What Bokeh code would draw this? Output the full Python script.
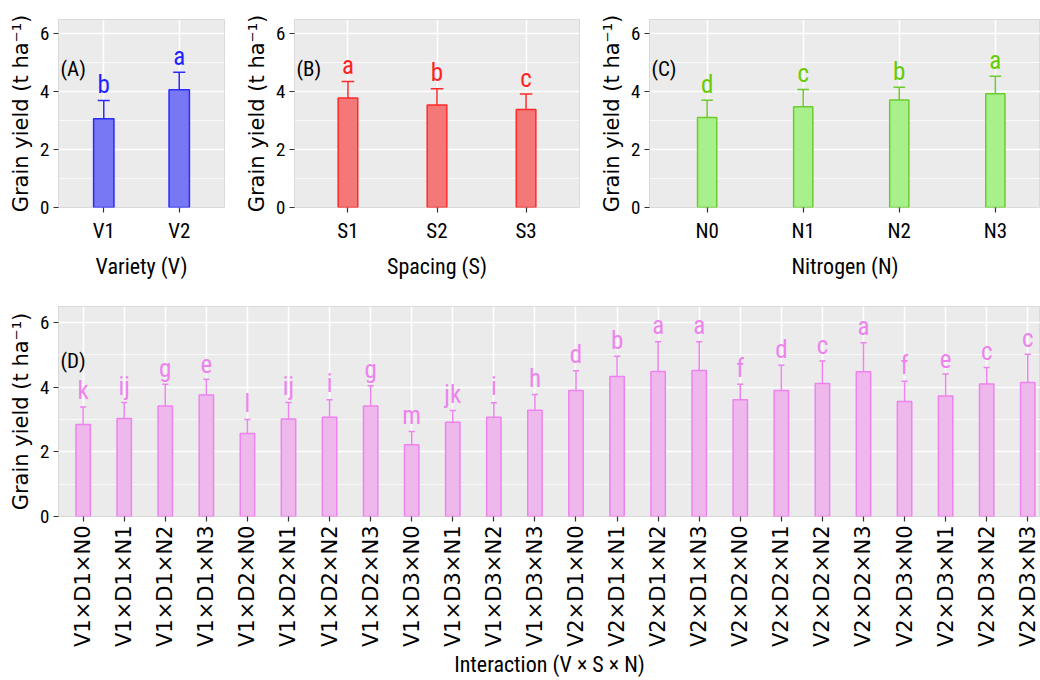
import math
from bokeh.plotting import figure
from bokeh.layouts import row, column
from bokeh.models import Range1d, FixedTicker, SingleIntervalTicker, ColumnDataSource, Label
from bokeh.core.properties import value
from bokeh.embed import file_html
from bokeh.resources import INLINE

# ---------------- data ----------------
variety = ["V1", "V2"]
variety_mean = [3.07, 4.07]
variety_sd = [0.63, 0.61]
variety_letters = ["b", "a"]

spacing = ["S1", "S2", "S3"]
spacing_mean = [3.79, 3.54, 3.39]
spacing_sd = [0.57, 0.57, 0.53]
spacing_letters = ["a", "b", "c"]

nitrogen = ["N0", "N1", "N2", "N3"]
nitrogen_mean = [3.11, 3.48, 3.72, 3.93]
nitrogen_sd = [0.60, 0.60, 0.44, 0.61]
nitrogen_letters = ["d", "c", "b", "a"]

interaction = ["V1×D1×N0", "V1×D1×N1", "V1×D1×N2", "V1×D1×N3",
               "V1×D2×N0", "V1×D2×N1", "V1×D2×N2", "V1×D2×N3",
               "V1×D3×N0", "V1×D3×N1", "V1×D3×N2", "V1×D3×N3",
               "V2×D1×N0", "V2×D1×N1", "V2×D1×N2", "V2×D1×N3",
               "V2×D2×N0", "V2×D2×N1", "V2×D2×N2", "V2×D2×N3",
               "V2×D3×N0", "V2×D3×N1", "V2×D3×N2", "V2×D3×N3"]
interaction_mean = [2.85, 3.03, 3.42, 3.76, 2.57, 3.02, 3.07, 3.42,
                    2.22, 2.92, 3.07, 3.29, 3.90, 4.33, 4.49, 4.52,
                    3.61, 3.90, 4.12, 4.48, 3.56, 3.73, 4.10, 4.15]
interaction_sd = [0.54, 0.50, 0.67, 0.49, 0.43, 0.51, 0.54, 0.63,
                  0.41, 0.36, 0.45, 0.49, 0.61, 0.63, 0.92, 0.89,
                  0.48, 0.78, 0.69, 0.90, 0.63, 0.68, 0.51, 0.87]
interaction_letters = ["k", "ij", "g", "e", "l", "ij", "i", "g",
                       "m", "jk", "i", "h", "d", "b", "a", "a",
                       "f", "d", "c", "a", "f", "e", "c", "c"]

Y_TITLE = "Grain yield (t ha\u207B\u00B9)"
NARROW_STR = "Roboto Condensed, Liberation Sans Narrow, Roboto, sans-serif"
NARROW = value(NARROW_STR)
WIDE = "DejaVu Sans"


def panel(cats, means, sds, letters, tag, xtitle, fill, line, txt,
          width, height, mb, x_end, bar_w, cap_w, rot=False):
    n = len(cats)
    xs = [i + 1 for i in range(n)]
    tops = [m + s for m, s in zip(means, sds)]
    src = ColumnDataSource(dict(
        x=xs, mean=means, top=tops, letter=letters,
        cl=[x - cap_w / 2 for x in xs], cr=[x + cap_w / 2 for x in xs]))
    p = figure(width=width, height=height,
               x_range=Range1d(0.4, x_end), y_range=Range1d(0, 6.5),
               output_backend="svg", toolbar_location=None,
               min_border_left=mb[0], min_border_right=mb[1],
               min_border_top=mb[2], min_border_bottom=mb[3])
    p.background_fill_color = "#EBEBEB"
    p.border_fill_color = "white"
    p.outline_line_color = "#DADADA"
    p.outline_line_width = 1

    p.xaxis.ticker = FixedTicker(ticks=xs)
    p.xaxis.major_label_overrides = {x: c for x, c in zip(xs, cats)}
    p.yaxis.ticker = SingleIntervalTicker(interval=2, num_minor_ticks=2)
    for ax in (p.xaxis, p.yaxis):
        ax.axis_line_color = None
        ax.major_tick_line_color = "#333333"
        ax.major_tick_line_width = 1.2
        ax.major_tick_out = 5
        ax.major_tick_in = 0
        ax.minor_tick_line_color = None
        ax.major_label_text_color = "black"
        ax.axis_label_text_color = "black"
        ax.axis_label_text_font_style = "normal"
    p.yaxis.major_label_text_font = NARROW_STR
    p.yaxis.major_label_text_font_size = "19px"
    p.yaxis.major_label_standoff = 4
    p.yaxis.axis_label = Y_TITLE
    p.yaxis.axis_label_text_font = WIDE
    p.yaxis.axis_label_text_font_size = "21px"
    p.yaxis.axis_label_standoff = 4

    p.xaxis.axis_label = xtitle
    p.xaxis.axis_label_text_font = NARROW_STR
    p.xaxis.axis_label_text_font_size = "22px"
    if rot:
        p.xaxis.major_label_orientation = math.pi / 2
        p.xaxis.major_label_text_font = WIDE
        p.xaxis.major_label_text_font_size = "21px"
        p.xaxis.major_label_standoff = 4
        p.xaxis.axis_label_standoff = 2
    else:
        p.xaxis.major_label_text_font = NARROW_STR
        p.xaxis.major_label_text_font_size = "21px"
        p.xaxis.major_label_standoff = 6
        p.xaxis.axis_label_standoff = 8

    p.xgrid.grid_line_color = "white"
    p.xgrid.grid_line_width = 1.5
    p.ygrid.grid_line_color = "white"
    p.ygrid.grid_line_width = 1.5
    p.ygrid.minor_grid_line_color = "white"
    p.ygrid.minor_grid_line_width = 0.7

    p.segment(x0="x", y0="mean", x1="x", y1="top", source=src,
              line_color=line, line_width=1.5)
    p.segment(x0="cl", y0="top", x1="cr", y1="top", source=src,
              line_color=line, line_width=1.5)
    p.vbar(x="x", top="mean", bottom=0, width=bar_w, source=src,
           fill_color=fill, line_color=line, line_width=1.5)
    p.text(x="x", y="top", text="letter", source=src, y_offset=-16,
           text_align="center", text_baseline="alphabetic",
           text_font=NARROW, text_font_size="25px", text_color=txt)
    p.add_layout(Label(x=0.4, y=4.8, x_offset=2, text=tag,
                       text_baseline="middle", text_font=NARROW_STR,
                       text_font_size="21px", text_color="black"))
    return p


pA = panel(variety, variety_mean, variety_sd, variety_letters, "(A)",
           "Variety (V)", "#7878F5", "#2a2aff", "#1f1fff",
           240, 285, (58, 16, 19, 78), 2.6, 0.27, 0.16)
pB = panel(spacing, spacing_mean, spacing_sd, spacing_letters, "(B)",
           "Spacing (S)", "#F57878", "#ff2a2a", "#ff1f1f",
           350, 285, (54, 11, 19, 78), 3.6, 0.22, 0.14)
pC = panel(nitrogen, nitrogen_mean, nitrogen_sd, nitrogen_letters, "(C)",
           "Nitrogen (N)", "#A8F08C", "#6CCB2E", "#66CC00",
           450, 285, (59, 0, 19, 78), 4.47, 0.20, 0.12)
pD = panel(interaction, interaction_mean, interaction_sd, interaction_letters,
           "(D)", "Interaction (V × S × N)", "#EFB8EC", "#EE82EE", "#EE82EE",
           1040, 395, (58, 0, 21, 164), 24.31, 0.35, 0.15, rot=True)

layout = column(row(pA, pB, pC), pD)
open("out.html", "w").write(file_html(layout, INLINE))
